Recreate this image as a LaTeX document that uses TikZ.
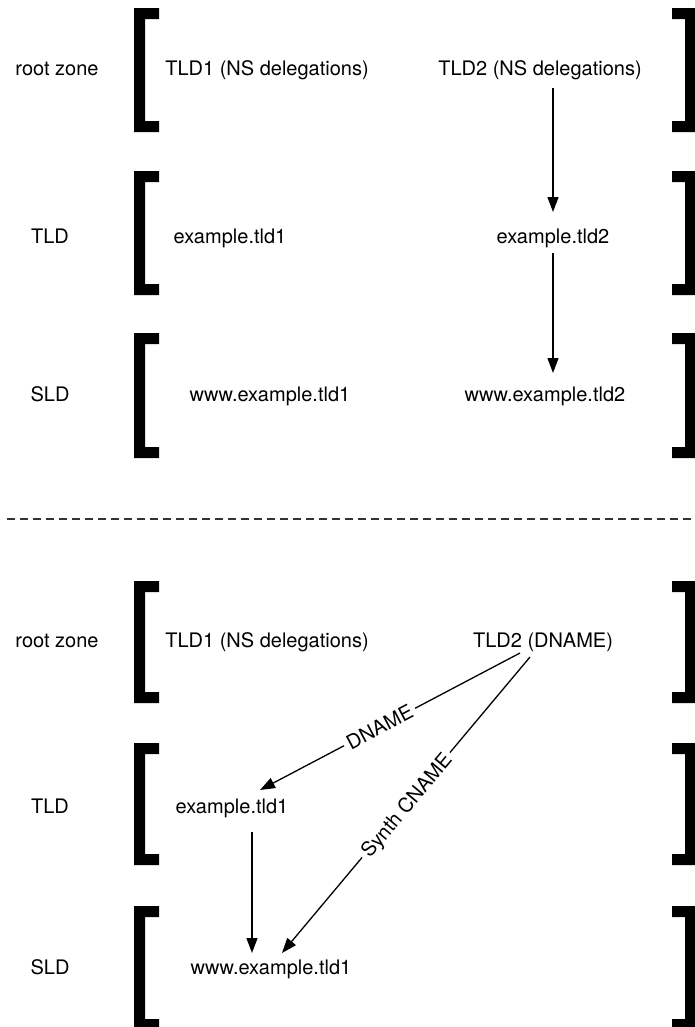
\documentclass[tikz,border=0pt]{standalone}
\usepackage{fontspec}
\setmainfont{TeX Gyre Heros}
\usetikzlibrary{arrows.meta,calc}
\newcommand\myleftbr[2]{\fill[brk] (134,#1) -- (159,#1) -- (159,#1+11) -- (145,#1+11) -- (145,#2-11) -- (159,#2-11) -- (159,#2) -- (134,#2) -- cycle;}
\newcommand\myrightbr[2]{\fill[brk] (696,#1) -- (672,#1) -- (672,#1+11) -- (685,#1+11) -- (685,#2-11) -- (672,#2-11) -- (672,#2) -- (696,#2) -- cycle;}
\begin{document}
\begin{tikzpicture}[x=1bp,y=-1bp,
  brk/.style={fill=black},
  lbl/.style={font=\fontsize{20bp}{24bp}\selectfont, text height=14.4bp, text depth=0pt, inner sep=0pt, anchor=center},
  arr/.style={-{Triangle[length=15bp,width=11bp]}, line width=1.3bp},
  edgelbl/.style={lbl, fill=white, inner sep=4bp},
  sep/.style={dashed, dash pattern=on 8bp off 5bp, line width=2bp, draw=black!80}]
\useasboundingbox (0,0) rectangle (695,1027);

% brackets
\myleftbr{8}{132}   \myrightbr{8}{132}
\myleftbr{171}{295} \myrightbr{171}{295}
\myleftbr{333}{458} \myrightbr{333}{458}
\myleftbr{581}{703} \myrightbr{581}{703}
\myleftbr{743}{865} \myrightbr{743}{865}
\myleftbr{906}{1030} \myrightbr{906}{1030}

% top part
\node[lbl] (rz1) at (57,68) {root zone};
\node[lbl] (t1a) at (267,68) {TLD1 (NS delegations)};
\node[lbl] (t2a) at (540,68) {TLD2 (NS delegations)};
\node[lbl] (tl1) at (50,236) {TLD};
\node[lbl] (e1a) at (230,236) {example.tld1};
\node[lbl] (e2a) at (553,236) {example.tld2};
\node[lbl] (sl1) at (50,394) {SLD};
\node[lbl] (w1a) at (270,394) {www.example.tld1};
\node[lbl] (w2a) at (545,394) {www.example.tld2};

\draw[arr] ($(t2a.center)+(13,20)$) -- ($(e2a.center)+(0,-24)$);
\draw[arr] ($(e2a.center)+(0,17)$) -- ($(e2a.center |- w2a.center)+(0,-21)$);

% separator
\coordinate (sepL) at (7,519);
\coordinate (sepR) at (695,519);
\draw[sep] (sepL) -- (sepR);

% bottom part
\node[lbl] (rz2) at (57,640) {root zone};
\node[lbl] (t1b) at (267,640) {TLD1 (NS delegations)};
\node[lbl] (t2b) at (543,640) {TLD2 (DNAME)};
\node[lbl] (tl2) at (50,806) {TLD};
\node[lbl] (e1b) at (232,806) {example.tld1};
\node[lbl] (sl2) at (50,967) {SLD};
\node[lbl] (w1b) at (271,967) {www.example.tld1};

\draw[arr] ($(t2b.center)+(-23,13)$) -- node[edgelbl, pos=0.54, sloped] {DNAME} ($(e1b.center)+(28,-16)$);
\draw[arr] ($(t2b.center)+(-13,17)$) -- node[edgelbl, pos=0.5, sloped] {Synth CNAME} ($(w1b.center)+(11,-14)$);
\draw[arr] ($(e1b.center)+(20,26)$) -- ($(e1b.center |- w1b.center)+(20,-14)$);
\end{tikzpicture}
\end{document}
